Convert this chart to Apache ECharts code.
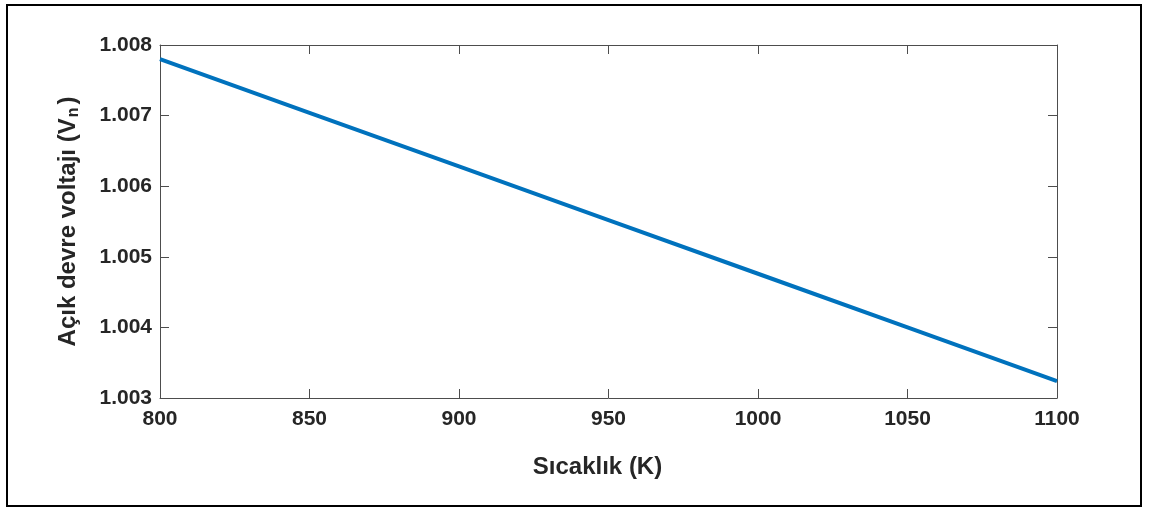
<!DOCTYPE html>
<html>
<head>
<meta charset="utf-8">
<script src="https://cdn.jsdelivr.net/npm/echarts@6/dist/echarts.min.js"></script>
<style>
  html, body { margin: 0; padding: 0; background: #fff; }
  #frame { position: absolute; left: 6px; top: 4px; width: 1132px; height: 499px; border: 2px solid #000; box-sizing: content-box; }
  #chart { position: absolute; left: 0; top: 0; width: 1150px; height: 508px; }
</style>
</head>
<body>
<div id="frame"></div>
<div id="chart"></div>
<script>
// Temperature (K) and open-circuit voltage (normalised)
const temperature = [800, 850, 900, 950, 1000, 1050, 1100];
const voltage = [1.00780, 1.00704, 1.00628, 1.00552, 1.00476, 1.00400, 1.00324];
const xTicks = [800, 850, 900, 950, 1000, 1050, 1100];
const yTicks = ['1.003', '1.004', '1.005', '1.006', '1.007', '1.008'];

const textColor = '#262626';
const axisColor = '#4d4d4d';
const fontFamily = '"Liberation Sans", Arial, sans-serif';

const chart = echarts.init(document.getElementById('chart'), null, { renderer: 'canvas' });

const axisCommon = {
  axisLine: { show: true, onZero: false, lineStyle: { color: axisColor, width: 1 } },
  axisTick: { show: true, inside: true, length: 9, lineStyle: { color: axisColor, width: 1 } },
  splitLine: { show: false }
};

chart.setOption({
  animation: false,
  backgroundColor: 'transparent',
  grid: { left: 160, top: 45, right: 93, bottom: 110, containLabel: false },
  xAxis: [
    Object.assign({}, axisCommon, {
      type: 'value', min: 800, max: 1100, interval: 50, position: 'bottom',
      axisLabel: { color: textColor, fontSize: 21, fontWeight: 'bold', fontFamily: fontFamily, margin: 11,
        formatter: v => xTicks.includes(v) ? String(v) : '' },
      name: 'Sıcaklık (K)', nameLocation: 'middle', nameGap: 57,
      nameTextStyle: { color: textColor, fontSize: 24, fontWeight: 'bold', fontFamily: fontFamily, padding: [0, 22, 0, 0] }
    }),
    Object.assign({}, axisCommon, {
      type: 'value', min: 800, max: 1100, interval: 50, position: 'top',
      axisLabel: { show: false }
    })
  ],
  yAxis: [
    Object.assign({}, axisCommon, {
      type: 'value', min: 1.003, max: 1.008, interval: 0.001, position: 'left',
      axisLabel: { color: textColor, fontSize: 21, fontWeight: 'bold', fontFamily: fontFamily, margin: 8,
        formatter: v => yTicks[Math.round((v - 1.003) * 1000)] || '' },
      name: '{t|Açık devre voltajı (V}{s|n}{t|)}', nameLocation: 'middle', nameGap: 78, nameRotate: 90,
      nameTextStyle: {
        color: textColor, fontSize: 24, fontWeight: 'bold', fontFamily: fontFamily,
        rich: {
          t: { color: textColor, fontSize: 24, fontWeight: 'bold', fontFamily: fontFamily, lineHeight: 28 },
          s: { color: textColor, fontSize: 16, fontWeight: 'bold', fontFamily: fontFamily, verticalAlign: 'bottom', padding: [14, 3, 0, 1], lineHeight: 28 }
        }
      }
    }),
    Object.assign({}, axisCommon, {
      type: 'value', min: 1.003, max: 1.008, interval: 0.001, position: 'right',
      axisLabel: { show: false }
    })
  ],
  series: [{
    type: 'line',
    data: temperature.map((t, i) => [t, voltage[i]]),
    showSymbol: false,
    lineStyle: { color: '#0072BD', width: 4 },
    clip: true
  }]
});
</script>
</body>
</html>
